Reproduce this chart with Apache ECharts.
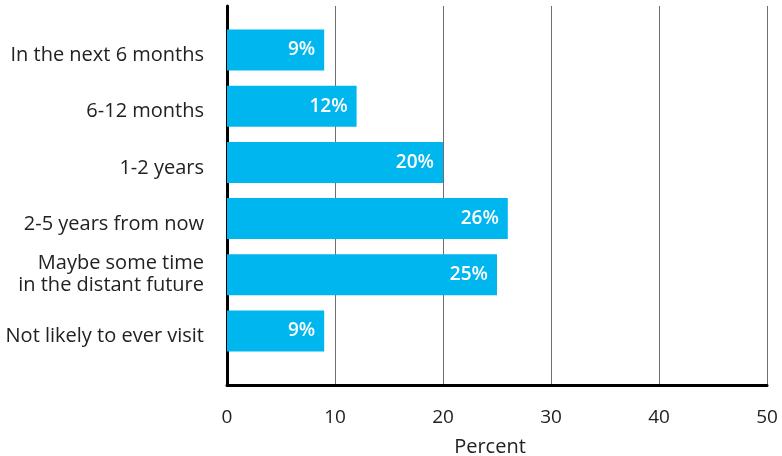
<!DOCTYPE html>
<html>
<head>
<meta charset="utf-8">
<script src="https://cdn.jsdelivr.net/npm/echarts@6/dist/echarts.min.js"></script>
<style>
  html, body { margin: 0; padding: 0; background: #ffffff; }
  #chart { width: 782px; height: 456px; }
</style>
</head>
<body>
<div id="chart"></div>
<script>
// Expected timing of a visit, share of respondents
const categories = [
  'In the next 6 months',
  '6-12 months',
  '1-2 years',
  '2-5 years from now',
  'Maybe some time\nin the distant future',
  'Not likely to ever visit'
];
const percents = [9, 12, 20, 26, 25, 9];
const xTicks = [0, 10, 20, 30, 40, 50];

const FONT = 'Open Sans';
const TEXT = '#222222';
const BAR = '#00b6ee';

const chart = echarts.init(document.getElementById('chart'), null, { renderer: 'canvas' });

chart.setOption({
  backgroundColor: '#ffffff',
  animation: false,
  grid: [
    // frame: axes, gridlines and tick labels
    { left: 227, right: 15, top: 6, bottom: 71, containLabel: false, outerBoundsMode: 'none' },
    // bars sit in a slightly inset band
    { left: 227, right: 15, top: 22, bottom: 97, containLabel: false, outerBoundsMode: 'none' }
  ],
  xAxis: [
    {
      gridIndex: 0,
      type: 'value',
      min: xTicks[0],
      max: xTicks[xTicks.length - 1],
      interval: 10,
      name: 'Percent',
      nameLocation: 'middle',
      nameGap: 52,
      nameTextStyle: { fontFamily: FONT, fontSize: 20, color: TEXT, padding: [0, 14, 0, 0] },
      axisLine: { show: true, lineStyle: { color: '#000', width: 3 } },
      axisTick: { show: false },
      axisLabel: { fontFamily: FONT, fontSize: 19, color: TEXT, margin: 23 },
      splitLine: { show: true, lineStyle: { color: '#6e6e6e', width: 1 } }
    },
    {
      gridIndex: 1,
      type: 'value',
      min: xTicks[0],
      max: xTicks[xTicks.length - 1],
      show: false
    }
  ],
  yAxis: [
    {
      gridIndex: 0,
      type: 'value',
      min: 0,
      max: 1,
      axisLine: { show: true, lineStyle: { color: '#000', width: 3 } },
      axisTick: { show: false },
      axisLabel: { show: false },
      splitLine: { show: false }
    },
    {
      gridIndex: 1,
      type: 'category',
      inverse: true,
      data: categories,
      axisLine: { show: false },
      axisTick: { show: false },
      axisLabel: {
        fontFamily: FONT,
        fontSize: 20,
        color: TEXT,
        margin: 23,
        lineHeight: 22,
        align: 'right',
        // one-line labels sit a little below the bar centre
        formatter: v => v.indexOf('\n') < 0 ? '{one|' + v + '}' : v,
        rich: {
          one: { fontFamily: FONT, fontSize: 20, color: TEXT, padding: [11, 0, 0, 0] }
        }
      }
    }
  ],
  series: [
    {
      type: 'bar',
      xAxisIndex: 1,
      yAxisIndex: 1,
      data: percents,
      barCategoryGap: '27%',
      itemStyle: { color: BAR },
      label: {
        show: true,
        position: 'insideRight',
        distance: 9,
        formatter: p => p.value + '%',
        fontFamily: FONT,
        fontSize: 19,
        fontWeight: 600,
        color: '#ffffff'
      },
      z: 3
    }
  ]
});
</script>
</body>
</html>
